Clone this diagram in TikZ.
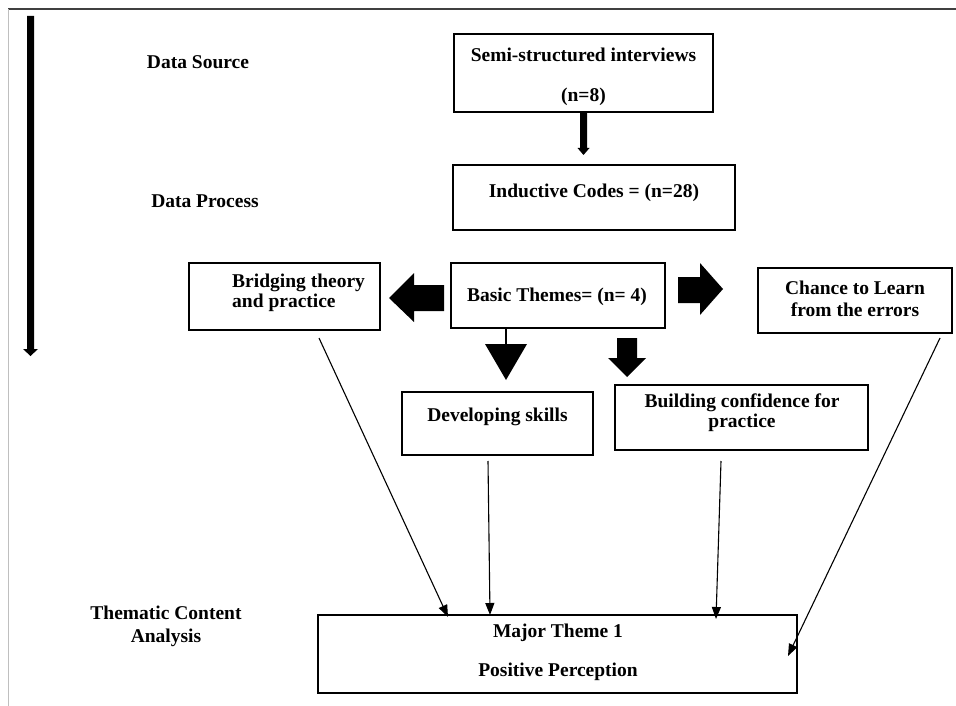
\documentclass[tikz,border=0pt]{standalone}
\usepackage{fontspec}
\setmainfont{Liberation Serif}
\usetikzlibrary{arrows.meta}
\begin{document}
\begin{tikzpicture}[x=1pt,y=-1pt,
 box/.style={draw,line width=1.6pt,inner sep=0,rectangle},
 lbl/.style={font=\bfseries\fontsize{19.5}{22}\selectfont,inner sep=0,align=center},
 conn/.style={line width=1.1pt,-{Triangle[length=12pt,width=9pt]}},
 blk/.style={fill=black,draw=none}]
\useasboundingbox (0,0) rectangle (956,706);
% frame
\draw[black!75,line width=1.5pt] (8,9) -- (956,9);
\draw[black!25,line width=1pt] (8,9) -- (8,706);
% left long arrow
\fill[blk] (27,16) -- (34,16) -- (34,349) -- (38,349) -- (30.5,356) -- (23,349) -- (27,349) -- cycle;
% side labels
\node[lbl] (ds) at (198,62) {Data Source};
\node[lbl] (dp) at (205,201) {Data Process};
\node[lbl] (tca1) at (166,613) {Thematic Content};
\node[lbl] (tca2) at (166,638) {Analysis};
% boxes
\node[box,minimum width=259pt,minimum height=78pt] (semi) at (583.5,73) {};
\node[lbl] (semiA) at (583.5,55) {Semi-structured interviews};
\node[lbl] (semiB) at (583.5,97) {(n=8)};
\node[box,minimum width=282pt,minimum height=65pt] (ind) at (594,197.5) {};
\node[lbl] (indT) at (594,193) {Inductive Codes = (n=28)};
\node[box,minimum width=214pt,minimum height=65pt] (basic) at (558,295.5) {};
\node[lbl] (basicT) at (557,297) {Basic Themes= (n= 4)};
\node[box,minimum width=191pt,minimum height=67pt] (bridge) at (284.5,296.5) {};
\node[lbl,align=left,anchor=west] (bridgeT) at (232,293) {Bridging theory\\[-2pt]and practice};
\node[box,minimum width=194pt,minimum height=65pt] (chance) at (855,300.5) {};
\node[lbl] (chanceT) at (855,299) {Chance to Learn\\from the errors};
\node[box,minimum width=191pt,minimum height=63pt] (dev) at (497.5,423.5) {};
\node[lbl] (devT) at (497.5,417) {Developing skills};
\node[box,minimum width=253pt,minimum height=65pt] (build) at (741.5,417.5) {};
\node[lbl] (buildT) at (742,413) {Building confidence for\\[-2pt]practice};
\node[box,minimum width=479pt,minimum height=78pt] (major) at (557.5,654) {};
\node[lbl] (majorA) at (558,633) {Major Theme 1};
\node[lbl] (majorB) at (558,672) {Positive Perception};
% block arrows
\fill[blk] (580,112) -- (587,112) -- (587,148) -- (589.5,148) -- (583.5,155) -- (577.5,148) -- (580,148) -- cycle;
\fill[blk] (444,285) -- (414,285) -- (414,273) -- (389,298) -- (414,322) -- (414,311) -- (444,311) -- cycle;
\fill[blk] (678,277) -- (700,277) -- (700,263) -- (723,289) -- (700,315) -- (700,303) -- (678,303) -- cycle;
\draw[line width=1.5pt] (506,328) -- (506,345);
\fill[blk] (485,344) -- (527,344) -- (506,380) -- cycle;
\fill[blk] (617,338) -- (637,338) -- (637,358) -- (646,358) -- (627,377) -- (608,358) -- (617,358) -- cycle;
% thin connectors
\coordinate (c1s) at (319,338); \coordinate (c1e) at (448,617);
\coordinate (c2s) at (488,461); \coordinate (c2e) at (490,615);
\coordinate (c3s) at (721,461); \coordinate (c3e) at (716,619);
\coordinate (c4s) at (940,338); \coordinate (c4e) at (788,656);
\draw[conn] (c1s) -- (c1e);
\draw[conn] (c2s) -- (c2e);
\draw[conn] (c3s) -- (c3e);
\draw[conn] (c4s) -- (c4e);
\end{tikzpicture}
\end{document}
